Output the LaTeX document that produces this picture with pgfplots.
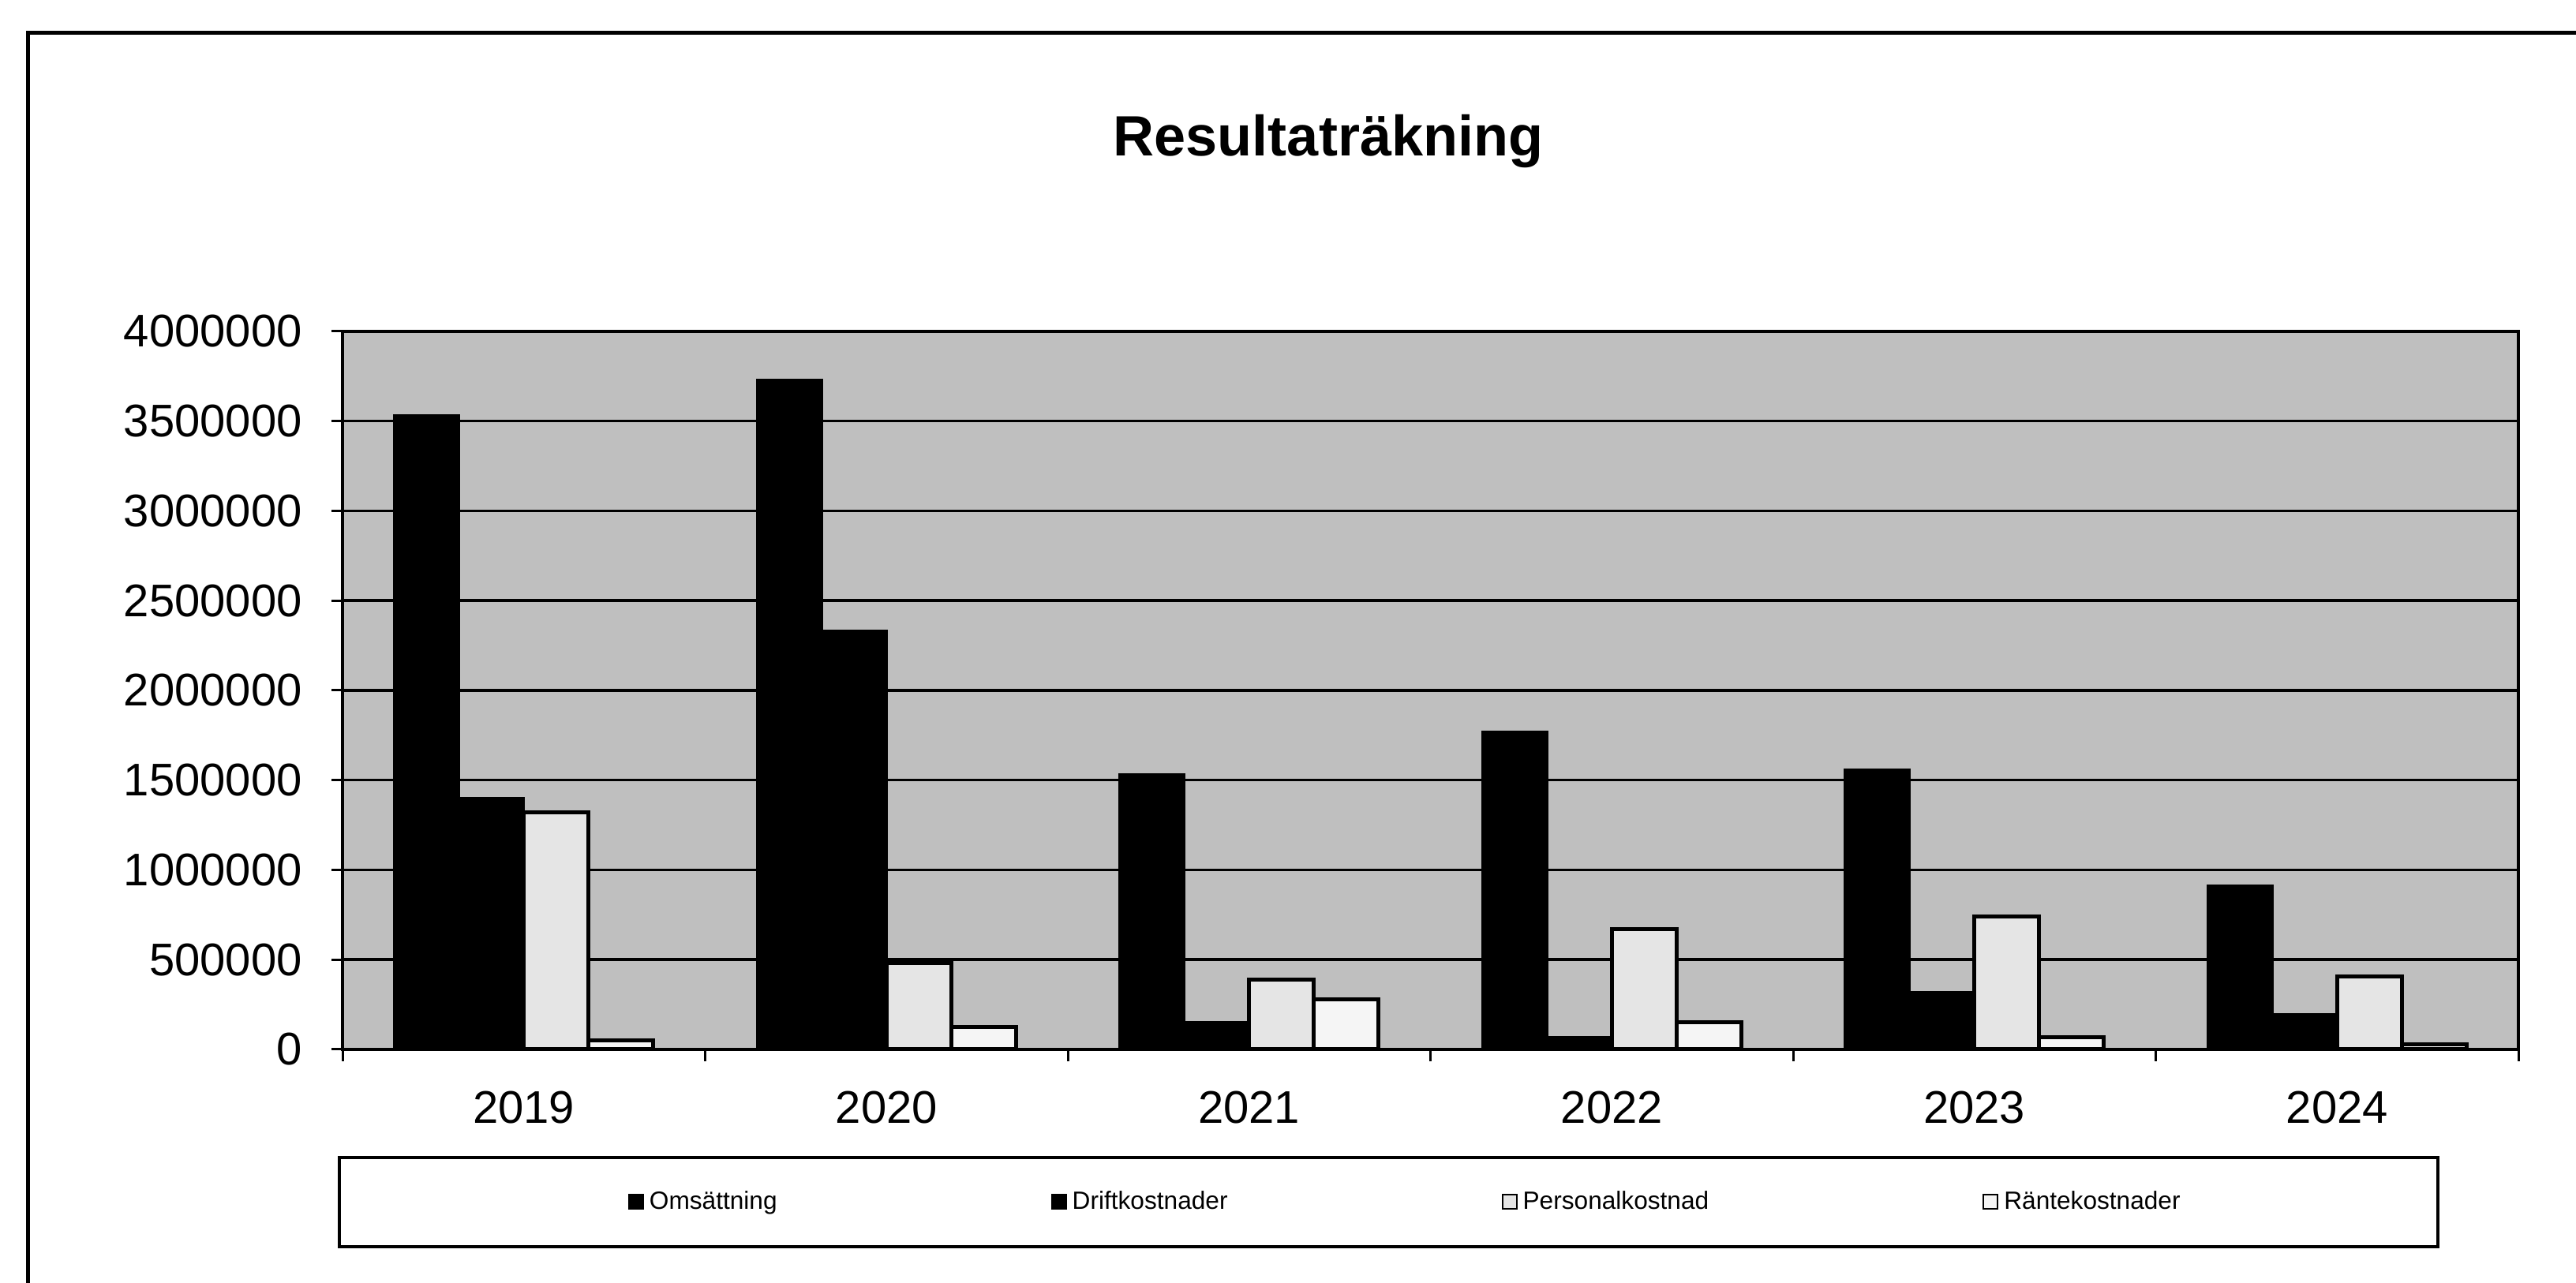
\documentclass[border=0pt]{standalone}
\usepackage{pgfplots}
\pgfplotsset{compat=1.18}
\usepackage{fontspec}
\setmainfont{Liberation Sans}
\pgfplotsset{ybar legend/.style={legend image code/.code={\draw[##1,line width=0.2mm] (0mm,-0.9mm) rectangle (1.8mm,0.9mm);}}}
\begin{document}
\begin{tikzpicture}
\path[use as bounding box] (0,0) rectangle (326.4mm,162.6mm);
\draw[line width=0.5mm] (3.5mm,-1mm) -- (3.5mm,158.4mm) -- (327mm,158.4mm);
\node[anchor=base,font=\fontsize{20.5}{25}\selectfont\bfseries] at (168.3mm,142.8mm) {Resultaträkning};
\draw[line width=0.35mm] (43mm,4.6mm) rectangle (308.9mm,15.9mm);
\begin{axis}[
  at={(43.4mm,29.6mm)}, anchor=south west,
  scale only axis, width=275.7mm, height=91mm,
  ybar=0pt, bar width=8.2mm,
  xmin=-0.5, xmax=5.5, ymin=0, ymax=4000000,
  xtick={0,1,2,3,4,5},
  xticklabels={2019,2020,2021,2022,2023,2024},
  minor xtick={-0.5,0.5,1.5,2.5,3.5,4.5,5.5},
  ytick={0,500000,1000000,1500000,2000000,2500000,3000000,3500000,4000000},
  scaled y ticks=false,
  tick label style={font=\fontsize{16.5}{19}\selectfont},
  yticklabel style={/pgf/number format/fixed, /pgf/number format/1000 sep={}, /pgf/number format/assume math mode=true, xshift=-2.5mm},
  xticklabel style={/pgf/number format/assume math mode=true, yshift=-2.7mm},
  tick align=outside, xtick pos=left, ytick pos=left,
  major tick length=1.4mm, minor tick length=1.5mm,
  major x tick style={draw=none},
  minor x tick style={black,line width=0.3mm},
  major y tick style={black,line width=0.3mm},
  ymajorgrids, major grid style={black,line width=0.35mm},
  axis line style={black,line width=0.4mm},
  axis background/.style={fill=black!25},
  legend columns=4,
  legend style={draw=none, fill=none, at={(axis description cs:0.131,-0.2126)}, anchor=west,
    inner sep=0pt, font=\fontsize{9}{11}\selectfont,
    /tikz/every even column/.append style={column sep=34mm}},
]
\addplot[fill=black, draw=black, line width=0.3mm] coordinates {(0,3530000) (1,3730000) (2,1530000) (3,1770000) (4,1560000) (5,910000)};
\addplot[fill=black, draw=black, line width=0.3mm] coordinates {(0,1400000) (1,2330000) (2,150000) (3,70000) (4,320000) (5,195000)};
\addplot[fill=black!10, draw=black, line width=0.5mm] coordinates {(0,1320000) (1,480000) (2,390000) (3,670000) (4,740000) (5,405000)};
\addplot[fill=black!4, draw=black, line width=0.5mm] coordinates {(0,50000) (1,125000) (2,280000) (3,150000) (4,70000) (5,30000)};
\legend{Omsättning,Driftkostnader,Personalkostnad,Räntekostnader}
\end{axis}
\end{tikzpicture}
\end{document}
